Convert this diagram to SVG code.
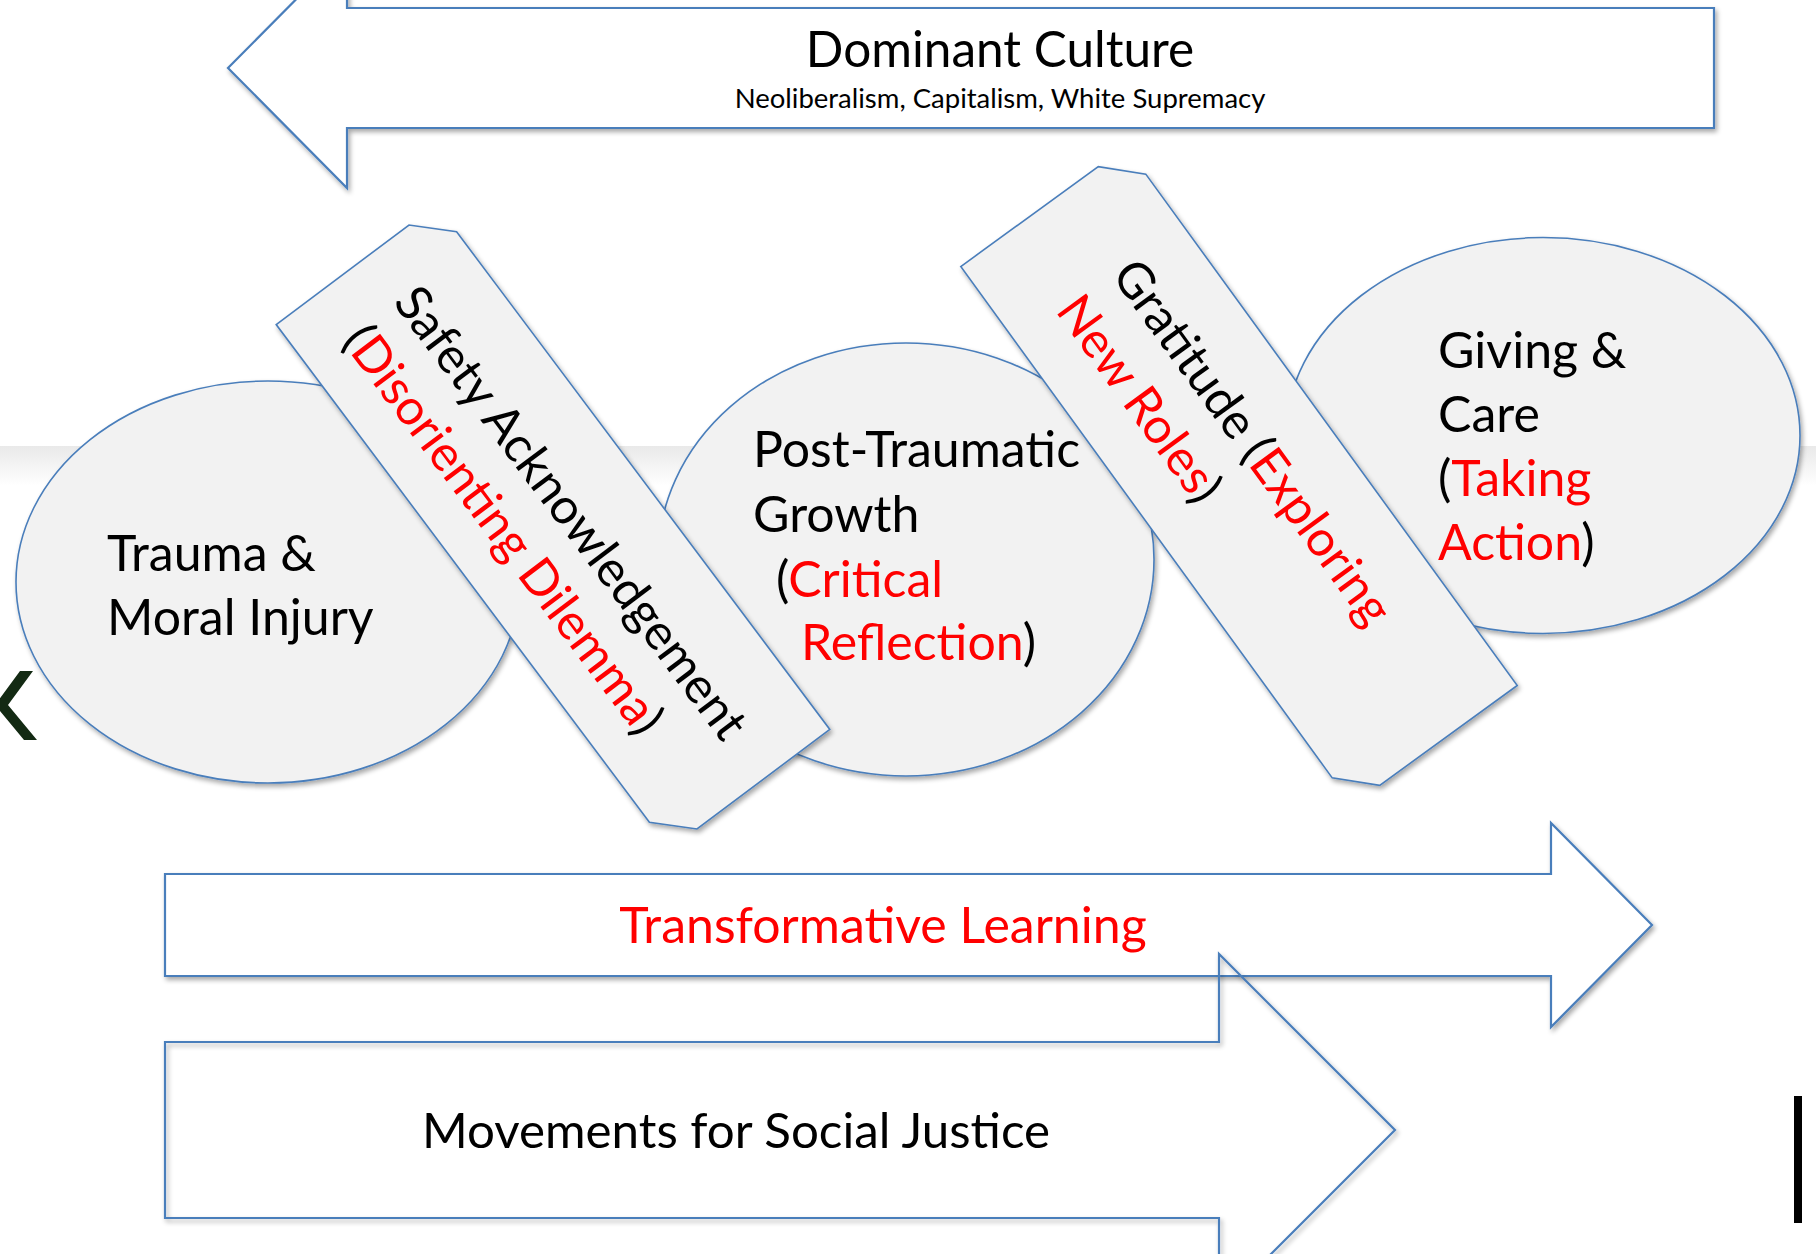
<svg xmlns="http://www.w3.org/2000/svg" width="1816" height="1254" viewBox="0 0 1816 1254">
  <defs>
    <filter id="shadow" x="-10%" y="-10%" width="125%" height="130%">
      <feGaussianBlur in="SourceAlpha" stdDeviation="2.5"/>
      <feOffset dx="2" dy="3" result="blur"/>
      <feComponentTransfer><feFuncA type="linear" slope="0.35"/></feComponentTransfer>
      <feMerge><feMergeNode/><feMergeNode in="SourceGraphic"/></feMerge>
    </filter>
    <linearGradient id="bandShade" x1="0" y1="0" x2="0" y2="1">
      <stop offset="0" stop-color="#e9e9e9"/>
      <stop offset="1" stop-color="#ffffff"/>
    </linearGradient>
    <style>
      .outline { stroke: #4a7ebb; stroke-width: 2.2; stroke-linejoin: miter; }
      .bubble { fill: #f2f2f2; stroke: #4a7ebb; stroke-width: 1.6; }
      .tab { fill: #f2f2f2; stroke: #4a7ebb; stroke-width: 1.6; }
      text { font-family: "Lato", "Liberation Sans", sans-serif; fill: #000000; }
      .big { font-size: 50px; }
      .tabtext { font-size: 49.5px; }
      .red { fill: #ff0000; }
    </style>
  </defs>

  <rect x="0" y="0" width="1816" height="1254" fill="#ffffff"/>
  <!-- soft shade under the upper panel edge -->
  <rect x="0" y="446" width="1816" height="40" fill="url(#bandShade)"/>

  <!-- stray slide chevron and bar at the edges -->
  <polygon points="20,671 33,671 8,705 37,740 24,740 -5,705" fill="#132a13"/>
  <rect x="1794" y="1096" width="8" height="127" fill="#000000"/>

  <!-- Dominant Culture, pointing left -->
  <g id="dominant-culture">
    <path class="outline" fill="#ffffff" filter="url(#shadow)" d="M347,8 L1714,8 L1714,128 L347,128 L347,188 L228,68 L347,-52 Z"/>
    <text x="1000" y="67" text-anchor="middle" font-size="49.5">Dominant Culture</text>
    <text x="1000" y="108" text-anchor="middle" font-size="27.5">Neoliberalism, Capitalism, White Supremacy</text>
  </g>

  <!-- stage bubbles -->
  <g id="trauma">
    <ellipse class="bubble" filter="url(#shadow)" cx="268" cy="582" rx="252" ry="201"/>
    <text class="big" x="107" y="571">Trauma &amp;</text>
    <text class="big" x="107" y="635">Moral Injury</text>
  </g>

  <g id="post-traumatic-growth">
    <ellipse class="bubble" filter="url(#shadow)" cx="906" cy="559.5" rx="248" ry="216.5"/>
    <text class="big" x="753" y="467">Post-Traumatic</text>
    <text class="big" x="753" y="532">Growth</text>
    <text class="big" x="776" y="597">(<tspan class="red">Critical</tspan></text>
    <text class="big" x="801" y="660"><tspan class="red">Reflection</tspan>)</text>
  </g>

  <g id="giving-care">
    <ellipse class="bubble" filter="url(#shadow)" cx="1543" cy="435.5" rx="257" ry="198"/>
    <text class="big" x="1438" y="368">Giving &amp;</text>
    <text class="big" x="1438" y="432">Care</text>
    <text class="big" x="1438" y="496">(<tspan class="red">Taking</tspan></text>
    <text class="big" x="1438" y="560"><tspan class="red">Action</tspan>)</text>
  </g>

  <!-- tilted transition tabs -->
  <g id="safety-acknowledgement">
    <g filter="url(#shadow)">
      <polygon class="tab" transform="translate(553,527) rotate(53.13)" points="-328,100 -328,-66 -294,-100 328,-100 328,66 294,100"/>
    </g>
    <g transform="translate(553,527) rotate(53.13)">
      <text class="tabtext" x="-276" y="-6">Safety Acknowledgement</text>
      <text class="tabtext" x="-276" y="58">(<tspan class="red">Disorienting Dilemma</tspan>)</text>
    </g>
  </g>

  <g id="gratitude">
    <g filter="url(#shadow)">
      <polygon class="tab" transform="translate(1239,476) rotate(54)" points="-333,102 -333,-68 -299,-102 333,-102 333,68 299,102"/>
    </g>
    <g transform="translate(1239,476) rotate(54)">
      <text class="tabtext" x="-238" y="-14">Gratitude (<tspan class="red">Exploring</tspan></text>
      <text class="tabtext" x="-242" y="52"><tspan class="red">New Roles</tspan>)</text>
    </g>
  </g>

  <!-- forward arrows along the bottom -->
  <g id="connectors">
    <g id="transformative-learning">
      <path class="outline" fill="#ffffff" filter="url(#shadow)" d="M165,874 L1551,874 L1551,823 L1652,925 L1551,1027 L1551,976 L165,976 Z"/>
      <text class="red" x="883" y="943" text-anchor="middle" font-size="50">Transformative Learning</text>
    </g>
    <g id="movements-for-social-justice">
      <path class="outline" fill="none" filter="url(#shadow)" d="M165,1042 L1219,1042 L1219,954 L1395,1130 L1219,1306 L1219,1218 L165,1218 Z"/>
      <text x="736" y="1148" text-anchor="middle" font-size="49.3">Movements for Social Justice</text>
    </g>
  </g>
</svg>
